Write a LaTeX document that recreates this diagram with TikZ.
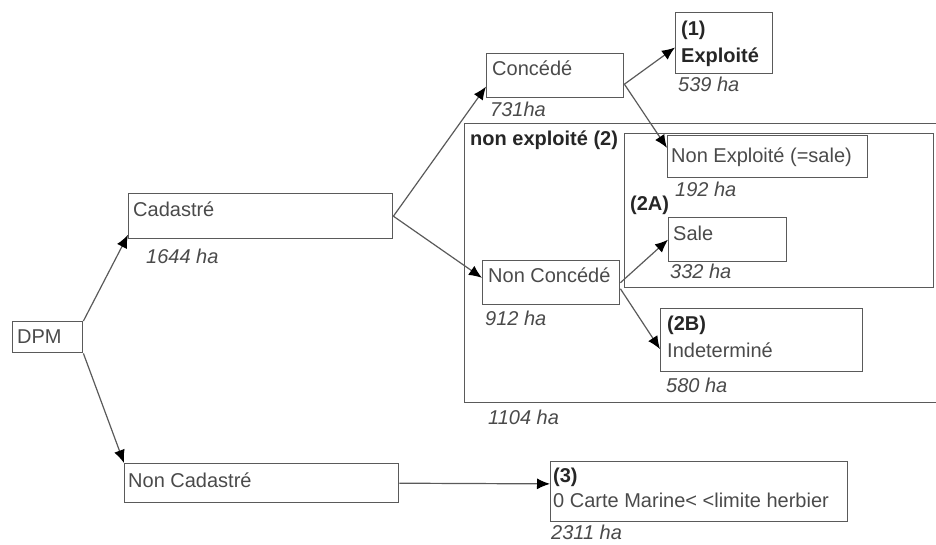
\documentclass[tikz,border=0pt]{standalone}
\usepackage{fontspec}
\setmainfont{Liberation Sans}
\usepackage{xcolor}
\usepackage{tikz}
\usetikzlibrary{arrows.meta, positioning}

\definecolor{linegray}{HTML}{5A5A5A}
\definecolor{textgray}{HTML}{4A4A4A}

\begin{document}
\begin{tikzpicture}[x=1pt, y=-1pt,
    box/.style={draw=linegray, line width=1.4pt, anchor=north west, inner sep=0pt},
    txt/.style={anchor=base west, inner sep=0pt, text=textgray, font=\fontsize{20}{24}\selectfont},
    head/.style={txt, text=black!85, font=\fontsize{20}{24}\selectfont\bfseries},
    area/.style={txt, font=\fontsize{20}{24}\selectfont\itshape},
    >={Latex[length=13pt, width=11pt, color=black]}]
      \useasboundingbox (0,0) rectangle (936,544);

      \node[box, minimum width=70pt, minimum height=31pt] at (12,321) (dpm) {};
      \node[box, minimum width=264pt, minimum height=45pt] at (128,193) (cad) {};
      \node[box, minimum width=274pt, minimum height=39pt] at (124,463) (ncad) {};
      \node[box, minimum width=137pt, minimum height=44pt] at (486,53) (conc) {};
      \node[box, minimum width=97pt, minimum height=61pt] at (675,12) (expl) {};
      \node[box, minimum width=476pt, minimum height=279pt] at (464,123) (nonexpl) {};
      \node[box, minimum width=309pt, minimum height=154pt] at (624,133) (grpA) {};
      \node[box, minimum width=200pt, minimum height=42pt] at (667,135) (nexp) {};
      \node[box, minimum width=118pt, minimum height=44pt] at (668,217) (sale) {};
      \node[box, minimum width=137pt, minimum height=44pt] at (482,260) (nconc) {};
      \node[box, minimum width=202pt, minimum height=63pt] at (660,308) (indet) {};
      \node[box, minimum width=297pt, minimum height=60pt] at (550,461) (carte) {};

      \node[txt] at (17,343) (tdpm) {DPM};
      \node[txt] at (133,216) (tcad) {Cadastré};
      \node[area] at (146,263) (hcad) {1644 ha};
      \node[txt] at (128,487) (tncad) {Non Cadastré};
      \node[txt] at (492,75) (tconc) {Concédé};
      \node[area] at (490,116) (hconc) {731ha};
      \node[head] at (681,35) (nexpl) {(1)};
      \node[head] at (681,62) (texpl) {Exploité};
      \node[area] at (678,91) (hexpl) {539 ha};
      \node[head] at (470,145) (tnonexpl) {non exploité (2)};
      \node[area] at (488,424) (hnonexpl) {1104 ha};
      \node[head] at (630,210) (ngrpA) {(2A)};
      \node[txt] at (671,162) (tnexp) {Non Exploité (=sale)};
      \node[area] at (675,196) (hnexp) {192 ha};
      \node[txt] at (673,240) (tsale) {Sale};
      \node[area] at (670,278) (hsale) {332 ha};
      \node[txt] at (488,282) (tnconc) {Non Concédé};
      \node[area] at (485,325) (hnconc) {912 ha};
      \node[head] at (667,330) (nindet) {(2B)};
      \node[txt] at (667,357) (tindet) {Indeterminé};
      \node[area] at (666,392) (hindet) {580 ha};
      \node[head] at (553,482) (ncarte) {(3)};
      \node[txt] at (553,507) (tcarte) {0 Carte Marine< <limite herbier};
      \node[area] at (551,539) (hcarte) {2311 ha};

      \draw[->, linegray, line width=1.2pt] (dpm.north east) -- (cad.188);
      \draw[->, linegray, line width=1.2pt] (dpm.south east) -- (ncad.north west);

      \draw[->, linegray, line width=1.2pt] (cad.east) -- (conc.189);
      \draw[->, linegray, line width=1.2pt] (cad.east) -- (nconc.176);

      \draw[->, linegray, line width=1.2pt] (conc.353) -- (expl.185);
      \draw[->, linegray, line width=1.2pt] (conc.353) -- (nexp.175);

      \draw[->, linegray, line width=1.2pt] (nconc.east) -- (sale.west);
      \draw[->, linegray, line width=1.2pt] (nconc.355) -- (indet.185);

      \draw[->, linegray, line width=1.2pt] (ncad.east) -- (carte.177);
    \end{tikzpicture}
\end{document}
